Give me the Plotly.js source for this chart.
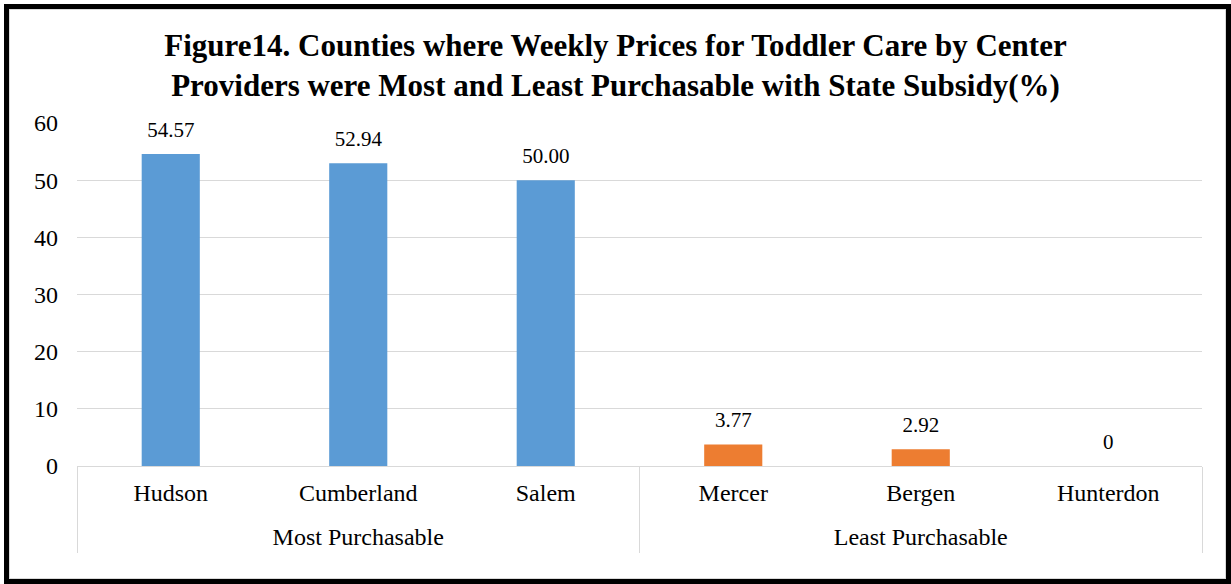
<!DOCTYPE html>
<html>
<head>
<meta charset="utf-8">
<script src="https://cdn.plot.ly/plotly-3.0.1.min.js"></script>
<style>
  html, body { margin: 0; padding: 0; background: #fff; }
  #wrap { position: relative; width: 1231px; height: 584px; overflow: hidden; }
  #chart { position: absolute; left: 0; top: 0; width: 1231px; height: 584px; }
  #frame { position: absolute; left: 4px; top: 4px; width: 1227px; height: 580px; box-sizing: border-box; border: 5px solid #000; pointer-events: none; }
  #inner { position: absolute; left: 9px; top: 9px; width: 1217px; height: 570px; box-sizing: border-box; border: 1px solid #d9d9d9; pointer-events: none; }
</style>
</head>
<body>
<div id="wrap">
  <div id="chart"></div>
  <div id="frame"></div>
  <div id="inner"></div>
</div>
<script>
const titleLines = ["Figure14. Counties where Weekly Prices for Toddler Care by Center",
                    "Providers were Most and Least Purchasable with State Subsidy(%)"];
const groups = ["Most Purchasable", "Most Purchasable", "Most Purchasable",
                "Least Purchasable", "Least Purchasable", "Least Purchasable"];
const counties = ["Hudson", "Cumberland", "Salem", "Mercer", "Bergen", "Hunterdon"];
const values = [54.57, 52.94, 50.00, 3.77, 2.92, 0];
const valueLabels = ["54.57", "52.94", "50.00", "3.77", "2.92", "0"];
const barColors = ["#5B9BD5", "#5B9BD5", "#5B9BD5", "#ED7D31", "#ED7D31", "#ED7D31"];
const yTicks = [0, 10, 20, 30, 40, 50, 60];

const serif = "'Liberation Serif', 'Times New Roman', serif";

// group label positions (centre index of each group) and boundaries, derived from the groups array
const groupNames = [];
const groupCenters = [];
const groupBounds = [-0.5];
groups.forEach((g, i) => {
  if (groupNames[groupNames.length - 1] !== g) {
    groupNames.push(g);
    groupCenters.push(i);
  }
  if (i === groups.length - 1 || groups[i + 1] !== g) {
    const start = groupCenters[groupCenters.length - 1];
    groupCenters[groupCenters.length - 1] = (start + i) / 2;
    groupBounds.push(i + 0.5);
  }
});
const catRange = [-0.5, counties.length - 0.5];

const bars = {
  type: "bar",
  x: counties,
  y: values,
  marker: { color: barColors },
  hoverinfo: "none"
};

const labels = {
  type: "scatter",
  mode: "markers+text",
  x: counties,
  y: values,
  text: valueLabels,
  textposition: "top center",
  marker: { size: 18, opacity: 0, color: "#fff" },
  cliponaxis: false,
  textfont: { family: serif, size: 21, color: "#000" },
  hoverinfo: "none"
};

const groupAxisTrace = {
  type: "scatter",
  mode: "none",
  x: [],
  y: [],
  xaxis: "x2",
  yaxis: "y",
  hoverinfo: "none"
};

const layout = {
  width: 1231,
  height: 584,
  paper_bgcolor: "#fff",
  plot_bgcolor: "#fff",
  margin: { l: 77, r: 29, t: 123, b: 118 },
  bargap: 0.69,
  showlegend: false,
  title: {
    text: "<b>" + titleLines.join("<br>") + "</b>",
    x: 0.5, xref: "container", xanchor: "center",
    y: 0.904, yref: "container", yanchor: "middle",
    font: { family: serif, size: 31, color: "#000" }
  },
  xaxis: {
    type: "category",
    range: catRange,
    showline: true, linecolor: "#d9d9d9", linewidth: 1,
    showgrid: false, zeroline: false,
    ticks: "",
    ticklabelstandoff: 5,
    tickfont: { family: serif, size: 24, color: "#000" }
  },
  xaxis2: {
    type: "linear",
    overlaying: "x",
    anchor: "y",
    side: "bottom",
    range: catRange,
    showline: false, showgrid: false, zeroline: false,
    tickmode: "array",
    tickvals: groupCenters,
    ticktext: groupNames,
    ticks: "",
    ticklabelstandoff: 54,
    tickfont: { family: serif, size: 24, color: "#000" },
    minor: {
      tickmode: "array",
      tickvals: groupBounds,
      ticks: "outside",
      ticklen: 86,
      tickwidth: 1,
      tickcolor: "#d9d9d9",
      showgrid: false
    }
  },
  yaxis: {
    range: [0, 60],
    tickvals: yTicks,
    ticktext: yTicks.map(String),
    showgrid: true, gridcolor: "#d9d9d9", gridwidth: 1,
    zeroline: false, showline: false,
    ticks: "",
    ticklabelstandoff: 18,
    tickfont: { family: serif, size: 24, color: "#000" }
  }
};

Plotly.newPlot("chart", [bars, labels, groupAxisTrace], layout, { displayModeBar: false, staticPlot: true });
</script>
</body>
</html>
